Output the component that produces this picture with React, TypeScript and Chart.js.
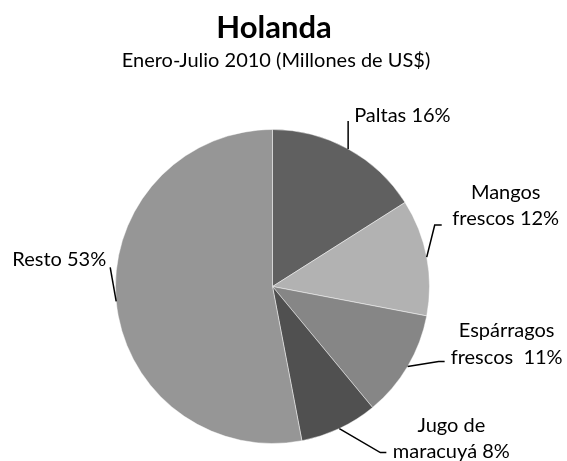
import React, { useEffect, useRef } from "react";
import { Chart, registerables } from "chart.js";

Chart.register(...registerables);

const titleText = "Holanda";
const subtitleText = "Enero-Julio 2010 (Millones de US$)";
const categories = ["Paltas", "Mangos frescos", "Espárragos frescos", "Jugo de maracuyá", "Resto"];
const values = [16, 12, 11, 8, 53];
const labelLines = [
  ["Paltas 16%"],
  ["Mangos", "frescos 12%"],
  ["Espárragos", "frescos  11%"],
  ["Jugo de", "maracuyá 8%"],
  ["Resto 53%"],
];
const sliceColors = ["#606060", "#b2b2b2", "#868686", "#505050", "#969696"];

// leader/label layout relative to the point on the arc edge at the slice's mid angle
const labelLayout = [
  { leader: [[0, -28]], align: "left", x: 6, ys: [-27] },
  { leader: [[8, -32], [15, -32]], align: "center", x: 79, ys: [-58, -32] },
  { leader: [[31, -5], [37, -5]], align: "center", x: 99, ys: [-29, -2] },
  { leader: [[41, 24], [47, 24]], align: "center", x: 112, ys: [3, 29] },
  { leader: [[-6, -34]], align: "right", x: -10, ys: [-35] },
];

const FONT = "Lato, 'Liberation Sans', sans-serif";

const labelPlugin = {
  id: "pieLabels",
  afterDraw(chart: any) {
    const ctx = chart.ctx;
    const meta = chart.getDatasetMeta(0);
    ctx.save();
    // title
    ctx.fillStyle = "#000";
    ctx.textAlign = "center";
    ctx.textBaseline = "alphabetic";
    ctx.font = `bold 31px ${FONT}`;
    ctx.fillText(titleText, 274, 38);
    ctx.font = `20px ${FONT}`;
    ctx.fillText(subtitleText, 276, 67);

    meta.data.forEach((arc: any, i: number) => {
      const p = arc.getProps(["x", "y", "startAngle", "endAngle", "outerRadius"], true);
      const mid = (p.startAngle + p.endAngle) / 2;
      const ex = p.x + Math.cos(mid) * p.outerRadius;
      const ey = p.y + Math.sin(mid) * p.outerRadius;
      const lay = labelLayout[i];
      ctx.strokeStyle = "#000";
      ctx.lineWidth = 1.5;
      ctx.beginPath();
      ctx.moveTo(ex, ey);
      lay.leader.forEach((pt) => ctx.lineTo(ex + pt[0], ey + pt[1]));
      ctx.stroke();
      ctx.font = `20px ${FONT}`;
      ctx.textAlign = lay.align;
      ctx.textBaseline = "alphabetic";
      labelLines[i].forEach((line, j) => {
        ctx.fillText(line, ex + lay.x, ey + lay.ys[j]);
      });
    });
    ctx.restore();
  },
};

export default function App() {
  const ref = useRef<HTMLCanvasElement>(null);
  useEffect(() => {
    document.body.style.margin = "0";
    const chart = new Chart(ref.current!, {
      type: "pie",
      data: {
        labels: categories,
        datasets: [
          {
            data: values,
            backgroundColor: sliceColors,
            borderColor: "rgba(255,255,255,0.45)",
            borderWidth: 1,
          },
        ],
      },
      options: {
        animation: false,
        responsive: false,
        devicePixelRatio: 1,
        layout: { padding: { left: 115, right: 137, top: 129, bottom: 17 } },
        plugins: {
          legend: { display: false },
          tooltip: { enabled: false },
          title: { display: false },
        },
      },
      plugins: [labelPlugin],
    });
    return () => chart.destroy();
  }, []);
  return (
    <div style={{ position: "absolute", left: 0, top: 0, width: 567, height: 461, background: "#fff" }}>
      <canvas ref={ref} width={567} height={461} />
    </div>
  );
}
